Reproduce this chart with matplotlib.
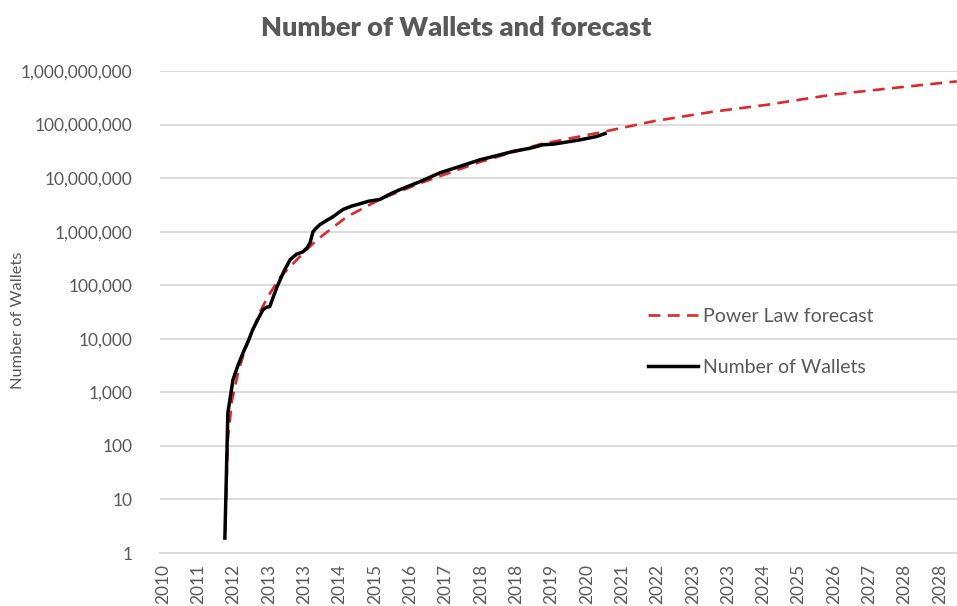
import matplotlib
matplotlib.use('Agg')
import matplotlib.pyplot as plt
import numpy as np

# wallets (decimal year, count)
wallet_year = [2012.01, 2012.08, 2012.20, 2012.32, 2012.44, 2012.56, 2012.67, 2012.80, 2012.91,
               2013.00, 2013.07, 2013.15, 2013.24, 2013.40, 2013.55, 2013.70, 2013.85, 2013.95,
               2014.02, 2014.09, 2014.18, 2014.25, 2014.40, 2014.56, 2014.80, 2015.00, 2015.13,
               2015.40, 2015.67, 2015.90, 2016.14, 2016.60, 2017.09, 2017.55, 2018.03, 2018.40,
               2018.81, 2019.20, 2019.52, 2019.75, 2019.99, 2020.40, 2020.79, 2020.98]
wallets = [1.9, 410, 1700, 3200, 5500, 9000, 15000, 24000, 35000,
           39000, 40000, 60000, 93000, 180000, 300000, 380000, 420000, 500000,
           620000, 1.0e6, 1.2e6, 1.35e6, 1.6e6, 1.9e6, 2.6e6, 3.0e6, 3.2e6,
           3.7e6, 4.0e6, 5.0e6, 6.1e6, 8.5e6, 12.6e6, 16.5e6, 22e6, 26e6,
           31.5e6, 36e6, 42e6, 43e6, 46e6, 52e6, 60e6, 68e6]

# power law forecast
fc_year = [2012.04, 2012.08, 2012.18, 2012.32, 2012.48, 2012.65, 2012.84, 2013.03, 2013.31,
           2013.59, 2013.90, 2014.18, 2014.56, 2014.89, 2015.67, 2016.61, 2018.03, 2019.45,
           2020.86, 2022.11, 2023.53, 2024.80, 2026.36, 2027.63, 2029.28]
forecast = [10, 130, 720, 2300, 6200, 13000, 32000, 62000, 140000,
            240000, 430000, 700000, 1.2e6, 1.9e6, 4.0e6, 8.0e6, 20e6, 43e6,
            71e6, 115e6, 174e6, 234e6, 363e6, 468e6, 640e6]

x_labels = ['2010', '2011', '2012', '2013', '2013', '2014', '2015', '2016', '2017', '2018',
            '2018', '2019', '2020', '2021', '2022', '2023', '2023', '2024', '2025', '2026',
            '2027', '2028', '2028']

GRAY = '#595959'
plt.rcParams['font.family'] = ['Lato', 'DejaVu Sans']

fig = plt.figure(figsize=(9.57, 6.06), dpi=100)
ax = fig.add_axes([160/957, 1-553/606, 1-160/957, (553-71)/606])

start = 2010.55
step = 5/6
ticks = [start + i*step for i in range(len(x_labels))]

ax.plot(fc_year, forecast, color='#e0282a', lw=1.9, dashes=(4.5, 2.8), label='Power Law forecast', zorder=3)
ax.plot(wallet_year, wallets, color='black', lw=2.5, label='Number of Wallets', zorder=4)

ax.set_yscale('log')
ax.set_ylim(1, 1e9)
ax.set_xlim(start - 3/42.38, start + (957-163)/42.38)
ax.set_yticks([10**i for i in range(10)])
ax.set_yticklabels(['{:,}'.format(10**i) for i in range(10)])
ax.yaxis.set_minor_locator(matplotlib.ticker.NullLocator())
ax.set_xticks(ticks)
ax.set_xticklabels(x_labels, rotation=90)
ax.tick_params(axis='both', length=0, colors=GRAY, labelsize=12.5)
ax.tick_params(axis='y', pad=20)
ax.tick_params(axis='x', pad=8)

ax.grid(axis='y', color='#d9d9d9', lw=1.3)
ax.set_axisbelow(True)
for s in ['top', 'right', 'left']:
    ax.spines[s].set_visible(False)
ax.spines['bottom'].set_color('#d9d9d9')
ax.spines['bottom'].set_linewidth(1.3)

fig.text(18/957, 1-320/606, 'Number of Wallets', rotation=90, color=GRAY, fontsize=11.8,
         ha='center', va='center')
fig.text(456/957, 1-28/606, 'Number of Wallets and forecast', color=GRAY, fontsize=19.5,
         fontweight='heavy', ha='center', va='center')

leg = ax.legend(loc='upper left', bbox_to_anchor=(630/957, 1-290/606), bbox_transform=fig.transFigure,
                frameon=False, fontsize=14, labelspacing=1.75, handlelength=2.6, handletextpad=0.25)
for t in leg.get_texts():
    t.set_color(GRAY)

fig.savefig('out.png', dpi=100)
